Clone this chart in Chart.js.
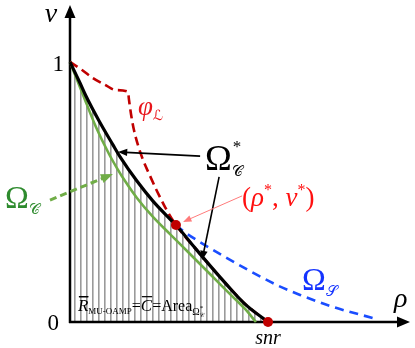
<!DOCTYPE html>
<html>
<head>
<meta charset="utf-8">
<script src="https://cdn.jsdelivr.net/npm/chart.js@4.4.0/dist/chart.umd.min.js"></script>
<style>
  html, body { margin: 0; padding: 0; background: #fff; }
  #wrap { width: 415px; height: 348px; }
</style>
</head>
<body>
<div id="wrap"><canvas id="chart" width="415" height="348"></canvas></div>
<script>
// rho axis normalised so that snr = 1, v axis runs 0..1
const X_MAX = 1.717;
const Y_MAX = 1.219;

// Omega_C* (black, optimal curve)
const optX = [0, 0.05, 0.08, 0.147, 0.217, 0.253, 0.338, 0.419, 0.505, 0.535, 0.631, 0.717, 0.798, 0.884, 1.0];
const optY = [1, 0.92, 0.87, 0.773, 0.681, 0.635, 0.542, 0.465, 0.396, 0.373, 0.285, 0.208, 0.138, 0.069, 0];

// Omega_C (green)
const grnX = [0, 0.066, 0.131, 0.197, 0.237, 0.278, 0.338, 0.419, 0.505, 0.591, 0.717, 0.798, 0.884, 0.939];
const grnY = [1, 0.873, 0.75, 0.646, 0.592, 0.542, 0.477, 0.404, 0.338, 0.273, 0.177, 0.115, 0.05, 0];

// phi_L (red dashed)
const phiX = [0, 0.061, 0.116, 0.177, 0.232, 0.293, 0.298, 0.308, 0.323, 0.343, 0.369, 0.404, 0.439, 0.48, 0.535, 0.631, 0.717, 0.798, 0.884, 1.0];
const phiY = [1, 0.969, 0.938, 0.912, 0.892, 0.885, 0.854, 0.8, 0.738, 0.681, 0.623, 0.562, 0.504, 0.442, 0.373, 0.285, 0.208, 0.138, 0.069, 0];

// Omega_S (blue dashed)
const segX = [0.535, 0.571, 0.646, 0.793, 0.909, 1.045, 1.162, 1.328, 1.53];
const segY = [0.373, 0.35, 0.312, 0.246, 0.196, 0.142, 0.104, 0.058, 0.015];

// marked points: (rho*, v*) and snr
const dotX = [0.535, 1.0];
const dotY = [0.373, 0];

const pts = (xs, ys) => xs.map((x, i) => ({ x, y: ys[i] }));

// vertical hatching under the black curve
function hatchPattern() {
  const c = document.createElement('canvas');
  c.width = 6; c.height = 4;
  const g = c.getContext('2d');
  g.fillStyle = '#9a9a9a';
  g.fillRect(2, 0, 1.6, 4);
  return document.getElementById('chart').getContext('2d').createPattern(c, 'repeat');
}

function arrow(ctx, x1, y1, x2, y2, color, width, head, dash) {
  const a = Math.atan2(y2 - y1, x2 - x1);
  ctx.save();
  ctx.strokeStyle = color;
  ctx.fillStyle = color;
  ctx.lineWidth = width;
  ctx.setLineDash(dash || []);
  ctx.beginPath();
  ctx.moveTo(x1, y1);
  ctx.lineTo(x2 - Math.cos(a) * head * 0.8, y2 - Math.sin(a) * head * 0.8);
  ctx.stroke();
  ctx.setLineDash([]);
  ctx.beginPath();
  ctx.moveTo(x2, y2);
  ctx.lineTo(x2 - head * Math.cos(a - 0.38), y2 - head * Math.sin(a - 0.38));
  ctx.lineTo(x2 - head * Math.cos(a + 0.38), y2 - head * Math.sin(a + 0.38));
  ctx.closePath();
  ctx.fill();
  ctx.restore();
}

// text run: [text, font, color, dy]
function run(ctx, x, y, parts) {
  for (const [t, font, color, dy] of parts) {
    ctx.font = font;
    ctx.fillStyle = color;
    ctx.fillText(t, x, y + (dy || 0));
    x += ctx.measureText(t).width;
  }
  return x;
}

const SERIF = '"Liberation Serif", serif';
const SCRIPT = '"DejaVu Serif", "DejaVu Sans", serif';

const axesPlugin = {
  id: 'axes',
  beforeDatasetsDraw(chart) {
    const { ctx, scales: { x, y } } = chart;
    const x0 = x.getPixelForValue(0), y0 = y.getPixelForValue(0);
    const xe = x.getPixelForValue(X_MAX), ye = y.getPixelForValue(Y_MAX);
    ctx.save();
    ctx.strokeStyle = '#000';
    ctx.fillStyle = '#000';
    ctx.lineWidth = 2.5;
    ctx.beginPath();
    ctx.moveTo(x0, y0 + 1);
    ctx.lineTo(x0, ye + 10);
    ctx.moveTo(x0 - 1, y0);
    ctx.lineTo(xe - 10, y0);
    ctx.stroke();
    ctx.beginPath();
    ctx.moveTo(x0, ye); ctx.lineTo(x0 - 5.5, ye + 13); ctx.lineTo(x0 + 5.5, ye + 13); ctx.closePath();
    ctx.moveTo(xe, y0); ctx.lineTo(xe - 13, y0 - 5.5); ctx.lineTo(xe - 13, y0 + 5.5); ctx.closePath();
    ctx.fill();
    ctx.restore();
  },
  afterDatasetsDraw(chart) {
    const { ctx, scales: { x, y } } = chart;
    const P = (a, b) => [x.getPixelForValue(a), y.getPixelForValue(b)];
    const x0 = x.getPixelForValue(0), y0 = y.getPixelForValue(0);
    ctx.save();
    ctx.textBaseline = 'alphabetic';

    // axis labels
    ctx.fillStyle = '#000';
    ctx.font = 'italic 28px ' + SERIF;
    ctx.textAlign = 'center';
    ctx.fillText('v', x0 - 19, 22);
    ctx.font = '23px ' + SERIF;
    ctx.textAlign = 'right';
    ctx.fillText('1', x0 - 6, y.getPixelForValue(1) + 9);
    ctx.fillText('0', x0 - 11, y0 + 8);
    ctx.textAlign = 'center';
    ctx.font = 'italic 20px ' + SERIF;
    ctx.fillText('snr', x.getPixelForValue(1), y0 + 22);
    ctx.textAlign = 'left';
    let [px, py] = P(1.636, 0.058);
    ctx.font = 'italic 28px ' + SERIF;
    ctx.fillText('\u03C1', px, py);

    // phi_L
    [px, py] = P(0.343, 0.795);
    run(ctx, px, py, [
      ['\u03C6', 'italic 27px ' + SERIF, '#e8151b'],
      ['\u2112', 'italic 14px ' + SCRIPT, '#e8151b', 5],
    ]);

    // Omega_C*
    [px, py] = P(0.682, 0.585);
    const ox = run(ctx, px, py, [['\u03A9', '36px ' + SERIF, '#000']]);
    run(ctx, ox, py + 6, [['\uD835\uDC9E', '15px ' + SCRIPT, '#000']]);
    run(ctx, ox + 1, py - 18, [['*', '17px ' + SERIF, '#000']]);

    // Omega_C (green)
    [px, py] = P(-0.328, 0.438);
    run(ctx, px, py, [
      ['\u03A9', '32px ' + SERIF, '#2e8b2e'],
      ['\uD835\uDC9E', '15px ' + SCRIPT, '#2e8b2e', 6],
    ]);

    // Omega_S (blue)
    [px, py] = P(1.172, 0.123);
    run(ctx, px, py, [
      ['\u03A9', '32px ' + SERIF, '#1433ff'],
      ['\uD835\uDCAE', '15px ' + SCRIPT, '#1433ff', 6],
    ]);

    // (rho*, v*)
    [px, py] = P(0.869, 0.446);
    run(ctx, px, py, [
      ['(', '27px ' + SERIF, '#ff1010'],
      ['\u03C1', 'italic 27px ' + SERIF, '#ff1010'],
      ['*', '16px ' + SERIF, '#ff1010', -11],
      [', ', '27px ' + SERIF, '#ff1010'],
      ['v', 'italic 27px ' + SERIF, '#ff1010'],
      ['*', '16px ' + SERIF, '#ff1010', -11],
      [')', '27px ' + SERIF, '#ff1010'],
    ]);

    // formula
    [px, py] = P(0.04, 0.042);
    ctx.fillStyle = '#fff';
    let fx = px;
    ctx.font = 'italic 17px ' + SERIF;
    const rw = ctx.measureText('R').width;
    fx = run(ctx, fx, py, [['R', 'italic 17px ' + SERIF, '#000']]);
    ctx.fillRect(px + 1, py - 15, rw - 1, 1.2);
    fx = run(ctx, fx, py, [['MU-OAMP', '9px ' + SERIF, '#000', 3], ['=', '16px ' + SERIF, '#000']]);
    const cx = fx;
    ctx.font = 'italic 17px ' + SERIF;
    const cw = ctx.measureText('C').width;
    fx = run(ctx, fx, py, [['C', 'italic 17px ' + SERIF, '#000'], ['=Area', '16px ' + SERIF, '#000']]);
    ctx.fillStyle = '#000';
    ctx.fillRect(px + 1, py - 15, rw - 1, 1.2);
    ctx.fillRect(cx + 1, py - 15, cw - 1, 1.2);
    const sx = run(ctx, fx, py + 4, [['\u03A9', '10px ' + SERIF, '#000']]);
    run(ctx, sx, py - 1, [['*', '7px ' + SERIF, '#000']]);
    run(ctx, sx, py + 6, [['\uD835\uDC9E', '6px ' + SCRIPT, '#000']]);

    // pointer arrows
    let [ax, ay] = P(0.657, 0.638), [bx, by] = P(0.242, 0.654);
    arrow(ctx, ax, ay, bx, by, '#000', 1.6, 10);
    [ax, ay] = P(0.753, 0.558); [bx, by] = P(0.667, 0.238);
    arrow(ctx, ax, ay, bx, by, '#000', 1.6, 10);
    [ax, ay] = P(-0.101, 0.469); [bx, by] = P(0.217, 0.569);
    arrow(ctx, ax, ay, bx, by, '#70ad47', 3, 13, [7, 4]);
    [ax, ay] = P(0.869, 0.485); [bx, by] = P(0.571, 0.385);
    arrow(ctx, ax, ay, bx, by, '#ff7b7b', 1, 9);
    ctx.restore();
  }
};

new Chart(document.getElementById('chart'), {
  type: 'line',
  data: {
    datasets: [
      { data: pts(dotX, dotY), showLine: false, pointRadius: 5, pointBackgroundColor: '#c00000',
        pointBorderWidth: 0, order: 0, clip: false },
      { data: pts(optX, optY), borderColor: '#000', borderWidth: 3.2, fill: 'origin',
        backgroundColor: hatchPattern(), cubicInterpolationMode: 'monotone', order: 1, clip: false },
      { data: pts(grnX, grnY), borderColor: '#70ad47', borderWidth: 2.6,
        cubicInterpolationMode: 'monotone', order: 2, clip: false },
      { data: pts(phiX, phiY), borderColor: '#c00000', borderWidth: 2.6, borderDash: [9, 5],
        cubicInterpolationMode: 'monotone', order: 3, clip: false },
      { data: pts(segX, segY), borderColor: '#1a4dff', borderWidth: 2.6, borderDash: [9, 6],
        cubicInterpolationMode: 'monotone', order: 4, clip: false },
    ],
  },
  options: {
    responsive: false,
    animation: false,
    layout: { padding: { left: 70, right: 5, top: 5, bottom: 26 } },
    elements: { point: { radius: 0 } },
    scales: {
      x: { type: 'linear', min: 0, max: X_MAX, display: false },
      y: { type: 'linear', min: 0, max: Y_MAX, display: false },
    },
    plugins: {
      legend: { display: false },
      tooltip: { enabled: false },
      filler: { drawTime: 'beforeDatasetsDraw' },
    },
  },
  plugins: [axesPlugin],
});
</script>
</body>
</html>
